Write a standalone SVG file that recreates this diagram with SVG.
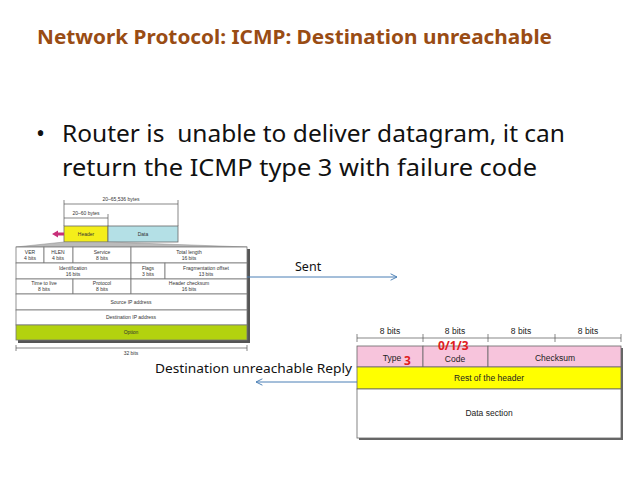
<svg xmlns="http://www.w3.org/2000/svg" width="638" height="479" viewBox="0 0 638 479">
<style>
.t{font-family:"Noto Sans","Liberation Sans",sans-serif;}
.tiny{font-family:"Liberation Sans",sans-serif;font-size:5px;fill:#333;text-anchor:middle;}
.sm{font-family:"Liberation Sans",sans-serif;font-size:8.5px;fill:#222;text-anchor:middle;}
.cell{fill:#fff;stroke:#777;stroke-width:0.8;}
.dim{stroke:#555;stroke-width:0.7;fill:none;}
.conn{stroke:#4a7fb5;stroke-width:1;fill:none;}
.red{font-family:"Noto Sans","Liberation Sans",sans-serif;font-weight:bold;fill:#e02020;}
</style>
<defs>
<marker id="chev" viewBox="0 0 10 10" refX="9" refY="5" markerWidth="8" markerHeight="8" orient="auto-start-reverse" markerUnits="userSpaceOnUse">
<path d="M1,1 L9,5 L1,9" fill="none" stroke="#4a7fb5" stroke-width="1.2"/>
</marker>
</defs>
<rect width="638" height="479" fill="#fff"/>
<text class="t" x="37" y="44" font-size="20" font-weight="bold" fill="#994c14" textLength="515" lengthAdjust="spacingAndGlyphs">Network Protocol: ICMP: Destination unreachable</text>
<text class="t" x="36" y="142" font-size="24" fill="#111">•</text>
<text class="t" x="62" y="142" font-size="24" fill="#111" style="white-space:pre" textLength="503" lengthAdjust="spacingAndGlyphs">Router is  unable to deliver datagram, it can</text>
<text class="t" x="62" y="176" font-size="24" fill="#111" textLength="475" lengthAdjust="spacingAndGlyphs">return the ICMP type 3 with failure code</text>

<g id="datagram">
<line class="dim" x1="64" y1="204" x2="178" y2="204"/>
<line class="dim" x1="64" y1="200" x2="64" y2="226"/>
<line class="dim" x1="178" y1="200" x2="178" y2="226"/>
<line class="dim" x1="64" y1="218" x2="108" y2="218"/>
<line class="dim" x1="108" y1="214" x2="108" y2="226"/>
<text class="tiny" x="121" y="201">20–65,536 bytes</text>
<text class="tiny" x="86" y="215">20–60 bytes</text>
<rect x="64" y="226" width="44" height="16" fill="#f4ee1a" stroke="#666" stroke-width="0.8"/>
<rect x="108" y="226" width="70" height="16" fill="#b4e0e6" stroke="#666" stroke-width="0.8"/>
<text class="tiny" x="86" y="236">Header</text>
<text class="tiny" x="143" y="236">Data</text>
<path d="M52,234 L58,230.5 L58,232.5 L64,232.5 L64,235.5 L58,235.5 L58,237.5 Z" fill="#c8307a"/>
<path d="M64,242 L16,247 L247,247 L108,242 Z" fill="#bbb" stroke="#888" stroke-width="0.5"/>
</g>

<g id="ip-header">
<rect x="18" y="249" width="232" height="94" fill="#555"/>
<rect class="cell" x="16" y="247" width="28" height="16"/>
<rect class="cell" x="44" y="247" width="29" height="16"/>
<rect class="cell" x="73" y="247" width="58" height="16"/>
<rect class="cell" x="131" y="247" width="116" height="16"/>
<rect class="cell" x="16" y="263" width="115" height="16"/>
<rect class="cell" x="131" y="263" width="34" height="16"/>
<rect class="cell" x="165" y="263" width="82" height="16"/>
<rect class="cell" x="16" y="279" width="57" height="15"/>
<rect class="cell" x="73" y="279" width="58" height="15"/>
<rect class="cell" x="131" y="279" width="116" height="15"/>
<rect class="cell" x="16" y="294" width="231" height="16"/>
<rect class="cell" x="16" y="310" width="231" height="15"/>
<rect x="16" y="325" width="231" height="15" fill="#b3d20e" stroke="#777" stroke-width="0.8"/>
<text class="tiny" x="30" y="254">VER</text><text class="tiny" x="30" y="260">4 bits</text>
<text class="tiny" x="58" y="254">HLEN</text><text class="tiny" x="58" y="260">4 bits</text>
<text class="tiny" x="102" y="254">Service</text><text class="tiny" x="102" y="260">8 bits</text>
<text class="tiny" x="189" y="254">Total length</text><text class="tiny" x="189" y="260">16 bits</text>
<text class="tiny" x="73" y="270">Identification</text><text class="tiny" x="73" y="276">16 bits</text>
<text class="tiny" x="148" y="270">Flags</text><text class="tiny" x="148" y="276">3 bits</text>
<text class="tiny" x="206" y="270">Fragmentation offset</text><text class="tiny" x="206" y="276">13 bits</text>
<text class="tiny" x="44" y="285">Time to live</text><text class="tiny" x="44" y="291">8 bits</text>
<text class="tiny" x="102" y="285">Protocol</text><text class="tiny" x="102" y="291">8 bits</text>
<text class="tiny" x="189" y="285">Header checksum</text><text class="tiny" x="189" y="291">16 bits</text>
<text class="tiny" x="131" y="304">Source IP address</text>
<text class="tiny" x="131" y="319">Destination IP address</text>
<text class="tiny" x="131" y="334">Option</text>
<line class="dim" x1="16" y1="348" x2="247" y2="348"/>
<line class="dim" x1="16" y1="345" x2="16" y2="351"/>
<line class="dim" x1="247" y1="345" x2="247" y2="351"/>
<text class="tiny" x="131" y="355">32 bits</text>
</g>

<g id="icmp">
<rect x="359" y="348" width="264" height="92" fill="#666"/>
<rect x="357" y="346" width="66" height="21" fill="#f7c4dc" stroke="#666" stroke-width="0.8"/>
<rect x="423" y="346" width="65" height="21" fill="#f7c4dc" stroke="#666" stroke-width="0.8"/>
<rect x="488" y="346" width="133" height="21" fill="#f7c4dc" stroke="#666" stroke-width="0.8"/>
<rect x="357" y="367" width="264" height="22" fill="#ffff00" stroke="#666" stroke-width="0.8"/>
<rect x="357" y="389" width="264" height="49" fill="#fff" stroke="#666" stroke-width="0.8"/>
<line class="dim" x1="357" y1="338" x2="621" y2="338"/>
<line class="dim" x1="357" y1="334" x2="357" y2="342"/>
<line class="dim" x1="423" y1="334" x2="423" y2="342"/>
<line class="dim" x1="488" y1="334" x2="488" y2="342"/>
<line class="dim" x1="555" y1="334" x2="555" y2="342"/>
<line class="dim" x1="621" y1="334" x2="621" y2="342"/>
<text class="sm" x="390" y="334">8 bits</text>
<text class="sm" x="455" y="334">8 bits</text>
<text class="sm" x="521" y="334">8 bits</text>
<text class="sm" x="588" y="334">8 bits</text>
<text class="sm" x="392" y="361">Type</text>
<text class="sm" x="455" y="362">Code</text>
<text class="sm" x="555" y="361">Checksum</text>
<text class="sm" x="489" y="381">Rest of the header</text>
<text class="sm" x="489" y="416">Data section</text>
<text class="red" x="404" y="365" font-size="12">3</text>
<text class="red" x="438" y="350" font-size="12">0/1/3</text>
</g>

<g id="connectors">
<line class="conn" x1="247" y1="277" x2="397" y2="277" marker-end="url(#chev)"/>
<line class="conn" x1="357" y1="382" x2="256" y2="382" marker-end="url(#chev)"/>
<text class="t" x="295" y="271" font-size="12.5" fill="#111">Sent</text>
<text class="t" x="155" y="373" font-size="12.5" fill="#111" textLength="197" lengthAdjust="spacingAndGlyphs">Destination unreachable Reply</text>
</g>
</svg>
